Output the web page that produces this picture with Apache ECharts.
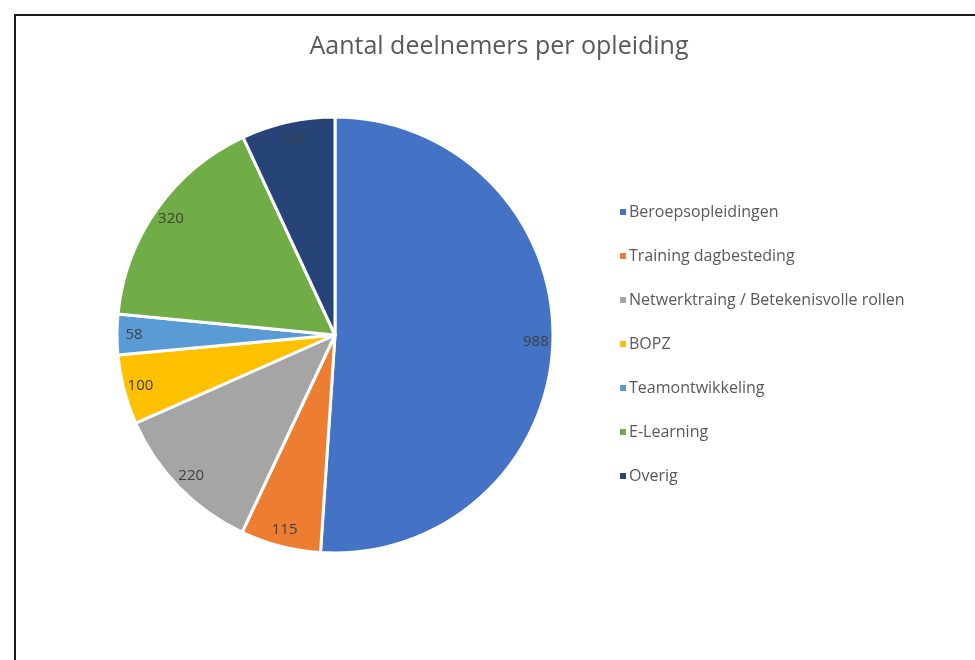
<!DOCTYPE html>
<html>
<head>
<meta charset="utf-8">
<script src="https://cdn.jsdelivr.net/npm/echarts@6/dist/echarts.min.js"></script>
<style>
  html, body { margin: 0; padding: 0; background: #fff; }
  #chart { width: 975px; height: 660px; }
</style>
</head>
<body>
<div id="chart"></div>
<script>
// Deelnemers per opleiding
const categories = [
  'Beroepsopleidingen',
  'Training dagbesteding',
  'Netwerktraing / Betekenisvolle rollen',
  'BOPZ',
  'Teamontwikkeling',
  'E-Learning',
  'Overig'
];
const values = [988, 115, 220, 100, 58, 320, 134];
const colors = ['#4472C4', '#ED7D31', '#A5A5A5', '#FFC000', '#5B9BD5', '#70AD47', '#264478'];

const FONT = '"Open Sans", Lato, sans-serif';
const pieData = categories.map((name, i) => ({ name, value: values[i] }));

const chart = echarts.init(document.getElementById('chart'), null, { renderer: 'canvas' });

chart.setOption({
  animation: false,
  color: colors,
  title: {
    text: 'Aantal deelnemers per opleiding',
    left: 494,
    top: 29,
    textAlign: 'center',
    textStyle: { fontFamily: FONT, fontSize: 25, fontWeight: 'normal', color: '#595959' }
  },
  legend: {
    orient: 'vertical',
    left: 613,
    top: 199,
    itemWidth: 8,
    itemHeight: 8,
    itemGap: 28,
    icon: 'rect',
    data: categories,
    textStyle: { fontFamily: FONT, fontSize: 16, color: '#595959', padding: [0, 0, 0, -3] }
  },
  graphic: [{
    type: 'rect',
    shape: { x: 15, y: 15, width: 1000, height: 700 },
    style: { fill: 'none', stroke: '#1a1a1a', lineWidth: 2 },
    silent: true
  }],
  series: [
    {
      type: 'pie',
      center: [335, 335],
      radius: [0, 218],
      startAngle: 90,
      clockwise: true,
      data: pieData,
      itemStyle: { borderColor: '#fff', borderWidth: 3 },
      label: { show: false },
      labelLine: { show: false }
    },
    {
      // label ring near the outer edge of the pie
      type: 'pie',
      center: [335, 335],
      radius: [178, 218],
      startAngle: 90,
      clockwise: true,
      silent: true,
      data: pieData,
      itemStyle: { color: 'rgba(0,0,0,0)' },
      label: {
        show: true,
        position: 'inside',
        formatter: '{c}',
        fontFamily: FONT,
        fontSize: 15,
        color: '#404040'
      },
      labelLine: { show: false }
    }
  ]
});
</script>
</body>
</html>
